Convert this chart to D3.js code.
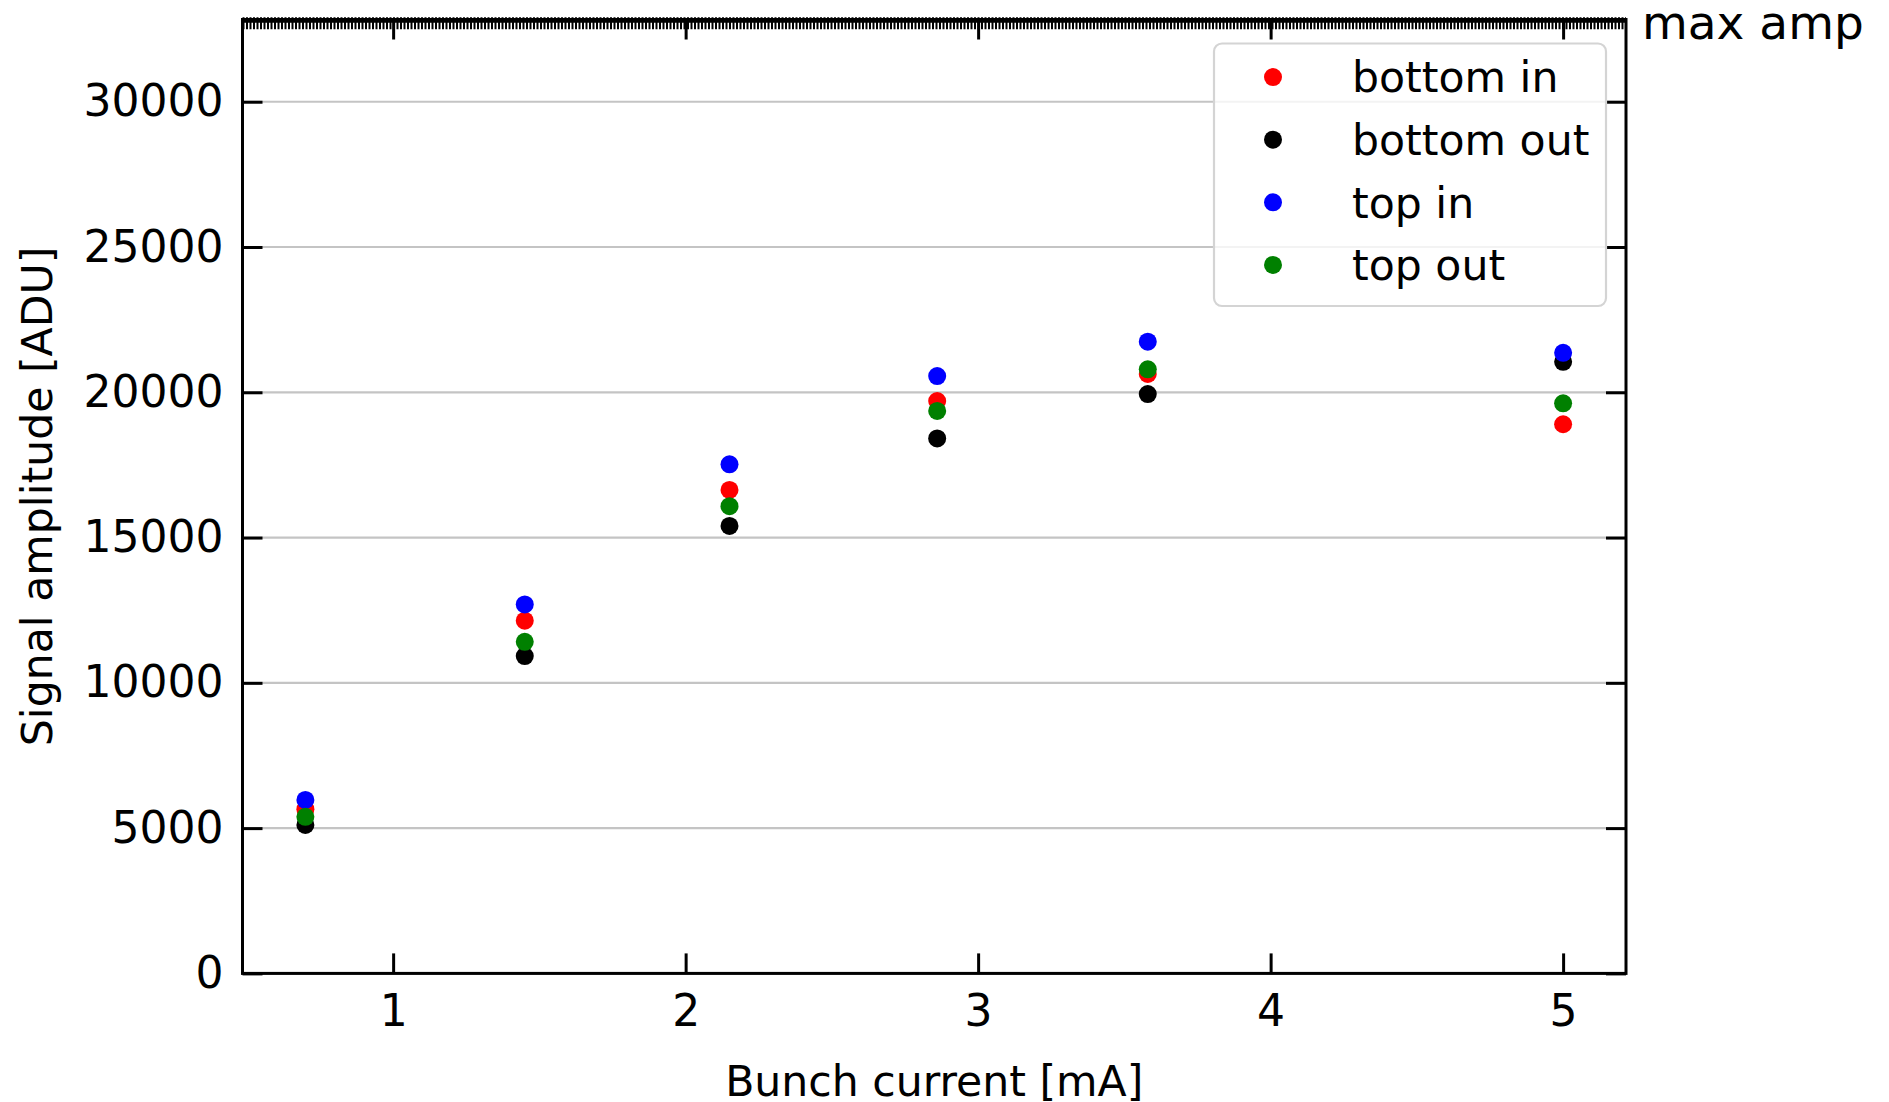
<!DOCTYPE html>
<html>
<head>
<meta charset="utf-8">
<script src="https://cdn.jsdelivr.net/npm/d3@7"></script>
<style>
    body { margin: 0; background: #fff; }
    svg { display: block; font-family: "DejaVu Sans", sans-serif; }
</style>
</head>
<body>
<svg id="chart" width="1889" height="1102"></svg>
<script>
// bunch current [mA]
const currents = [0.7, 1.45, 2.15, 2.86, 3.58, 5.0];

const bottomIn  = [5650, 12140, 16640, 19700, 20630, 18900];
const bottomOut = [5110, 10920, 15400, 18410, 19940, 21050];
const topIn     = [5970, 12700, 17520, 20560, 21740, 21360];
const topOut    = [5390, 11410, 16080, 19360, 20790, 19620];

const seriesNames = ["bottom in", "bottom out", "top in", "top out"];
const seriesColors = ["#ff0000", "#000000", "#0000ff", "#008000"];
const seriesValues = [bottomIn, bottomOut, topIn, topOut];

const xTicks = [1, 2, 3, 4, 5];
const yTicks = [0, 5000, 10000, 15000, 20000, 25000, 30000];
const maxAmp = 32767;

const xDomain = [0.485, 5.215];
const yDomain = [0, 32830];

const svg = d3.select("#chart");
const margin = {top: 19.5, right: 263, bottom: 128.6, left: 242.5};
const width = 1889 - margin.left - margin.right;
const height = 1102 - margin.top - margin.bottom;

const x = d3.scaleLinear().domain(xDomain).range([0, width]);
const y = d3.scaleLinear().domain(yDomain).range([height, 0]);

const g = svg.append("g")
    .attr("transform", `translate(${margin.left}, ${margin.top})`);

// horizontal grid
g.append("g")
    .attr("class", "grid")
    .selectAll("line")
    .data(yTicks)
    .join("line")
        .attr("x1", 0)
        .attr("x2", width)
        .attr("y1", d => y(d))
        .attr("y2", d => y(d))
        .attr("stroke", "#c4c4c4")
        .attr("stroke-width", 2.2);

// points, drawn in legend order
const points = seriesValues.map((vals, i) => vals.map((v, j) => ({x: currents[j], y: v, color: seriesColors[i]}))).flat();
g.append("g")
    .selectAll("circle")
    .data(points)
    .join("circle")
        .attr("cx", d => x(d.x))
        .attr("cy", d => y(d.y))
        .attr("r", 9)
        .attr("fill", d => d.color);

// axes, ticks inward on all sides
const tickLen = 20;
const xAxisBottom = d3.axisBottom(x).tickValues(xTicks).tickSize(-tickLen).tickPadding(21).tickFormat(d3.format("d"));
const xAxisTop = d3.axisTop(x).tickValues(xTicks).tickSize(-tickLen).tickFormat("");
const yAxisLeft = d3.axisLeft(y).tickValues(yTicks).tickSize(-tickLen).tickPadding(19).tickFormat(d3.format("d"));
const yAxisRight = d3.axisRight(y).tickValues(yTicks).tickSize(-tickLen).tickFormat("");

function styleAxis(sel) {
    sel.select(".domain").remove();
    sel.selectAll(".tick line").attr("stroke", "#000").attr("stroke-width", 3);
    sel.selectAll(".tick text")
        .attr("fill", "#000")
        .style("font-size", "44px")
        .style("font-family", "DejaVu Sans");
}

g.append("g").attr("transform", `translate(0, ${height})`).call(xAxisBottom).call(styleAxis);
g.append("g").call(xAxisTop).call(styleAxis);
g.append("g").call(yAxisLeft).call(styleAxis);
g.append("g").attr("transform", `translate(${width}, 0)`).call(yAxisRight).call(styleAxis);

// frame
g.append("rect")
    .attr("width", width)
    .attr("height", height)
    .attr("fill", "none")
    .attr("stroke", "#000")
    .attr("stroke-width", 3);

// max amplitude marker line
const ma = y(maxAmp);
g.append("line")
    .attr("x1", 0).attr("x2", width)
    .attr("y1", ma).attr("y2", ma)
    .attr("stroke", "#000")
    .attr("stroke-width", 3);
g.append("line")
    .attr("x1", 0).attr("x2", width)
    .attr("y1", ma + 2).attr("y2", ma + 2)
    .attr("stroke", "#000")
    .attr("stroke-width", 12)
    .attr("stroke-dasharray", "2 1.5");

svg.append("text")
    .attr("x", margin.left + width + 16)
    .attr("y", 39)
    .style("font-size", "47px")
    .text("max amp");

// axis labels
svg.append("text")
    .attr("x", margin.left + width / 2)
    .attr("y", 1096)
    .attr("text-anchor", "middle")
    .style("font-size", "42.6px")
    .text("Bunch current [mA]");

svg.append("text")
    .attr("transform", `translate(52, ${margin.top + height / 2}) rotate(-90)`)
    .attr("text-anchor", "middle")
    .style("font-size", "42.6px")
    .text("Signal amplitude [ADU]");

// legend
const legend = svg.append("g").attr("transform", "translate(1214, 43.5)");
legend.append("rect")
    .attr("width", 392)
    .attr("height", 262.5)
    .attr("rx", 8)
    .attr("fill", "#fff")
    .attr("fill-opacity", 0.8)
    .attr("stroke", "#d4d4d4")
    .attr("stroke-width", 2.2);

const rows = legend.selectAll(".row")
    .data(seriesNames)
    .join("g")
        .attr("class", "row")
        .attr("transform", (d, i) => `translate(0, ${33.6 + i * 62.6})`);
rows.append("circle")
    .attr("cx", 59)
    .attr("cy", 0)
    .attr("r", 9)
    .attr("fill", (d, i) => seriesColors[i]);
rows.append("text")
    .attr("x", 138)
    .attr("y", 0)
    .attr("dy", "0.36em")
    .style("font-size", "42.6px")
    .text(d => d);
</script>
</body>
</html>
